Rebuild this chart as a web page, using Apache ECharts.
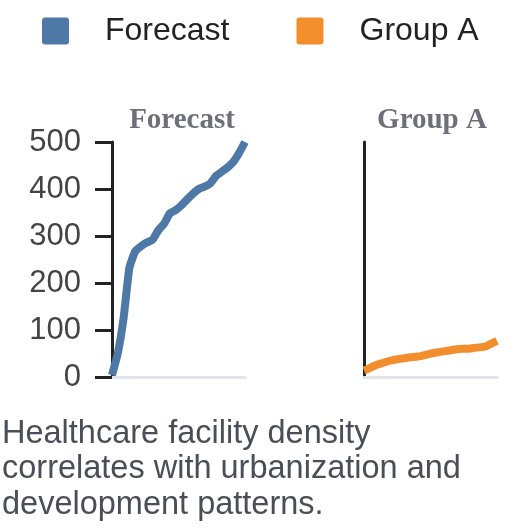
<!DOCTYPE html>
<html>
<head>
<meta charset="utf-8">
<script src="https://cdn.jsdelivr.net/npm/echarts@6/dist/echarts.min.js"></script>
<style>html,body{margin:0;padding:0;background:#fff}#c{width:528px;height:528px}</style>
</head>
<body>
<div id="c"></div>
<script>
var categories = ['1','2','3','4','5','6','7','8','9','10','11','12','13','14','15','16','17','18','19','20','21','22','23','24'];
var forecastValues = [4, 50, 125, 232, 267, 278, 286, 292, 312, 326, 348, 355, 365, 378, 390, 400, 405, 412, 428, 437, 446, 458, 477, 500];
var groupAValues = [14, 19, 25, 29, 33, 36, 38, 40, 42, 43, 45, 48, 51, 53, 55, 57, 59, 60, 60, 62, 63, 65, 71, 77];
var seriesNames = ['Forecast', 'Group A'];
var yTicks = [0, 100, 200, 300, 400, 500];
var caption = 'Healthcare facility density\ncorrelates with urbanization and\ndevelopment patterns.';

var colors = ['#4e79a7', '#f28e2b'];
var chart = echarts.init(document.getElementById('c'), null, {renderer: 'canvas'});

function xAxisCfg(i) {
  return {
    type: 'category', gridIndex: i, data: categories, boundaryGap: false,
    axisLine: {show: true, lineStyle: {color: '#e1e4e9', width: 3}},
    axisTick: {show: false}, axisLabel: {show: false}, splitLine: {show: false}
  };
}
function yAxisCfg(i, showLabels) {
  return {
    type: 'value', gridIndex: i, min: yTicks[0], max: yTicks[yTicks.length - 1], interval: 100,
    axisLine: {show: true, lineStyle: {color: '#222', width: 3}},
    axisTick: {show: showLabels, length: 17, lineStyle: {color: '#222', width: 3}},
    axisLabel: {show: showLabels, margin: 31, fontSize: 31, color: '#444', fontFamily: 'Liberation Sans, Arial, sans-serif'},
    splitLine: {show: false}
  };
}

chart.setOption({
  animation: false,
  color: colors,
  legend: {
    data: seriesNames,
    left: 37, top: 10,
    icon: 'path://M3,0H24A3,3,0,0,1,27,3V24A3,3,0,0,1,24,27H3A3,3,0,0,1,0,24V3A3,3,0,0,1,3,0Z',
    itemWidth: 27, itemHeight: 27,
    itemGap: 67,
    textStyle: {fontSize: 32, color: '#222', fontFamily: 'Liberation Sans, Arial, sans-serif', padding: [0, 0, 0, 31]}
  },
  title: [
    {text: seriesNames[0], left: 177, top: 101, textAlign: 'center',
     textStyle: {fontFamily: 'Liberation Serif, Times New Roman, serif', fontWeight: 'bold', fontSize: 29, color: '#6e7079'}},
    {text: seriesNames[1], left: 427, top: 101, textAlign: 'center',
     textStyle: {fontFamily: 'Liberation Serif, Times New Roman, serif', fontWeight: 'bold', fontSize: 29, color: '#6e7079'}},
    {text: caption, left: -3, top: 411,
     textStyle: {fontFamily: 'Liberation Sans, Arial, sans-serif', fontWeight: 'normal', fontSize: 32.5, lineHeight: 35.5, color: '#4a4f57'}}
  ],
  grid: [
    {left: 112, top: 142, width: 133, height: 235},
    {left: 364, top: 142, width: 133, height: 235}
  ],
  xAxis: [xAxisCfg(0), xAxisCfg(1)],
  yAxis: [yAxisCfg(0, true), yAxisCfg(1, false)],
  series: [
    {name: seriesNames[0], type: 'line', xAxisIndex: 0, yAxisIndex: 0, data: forecastValues,
     smooth: 0.15, showSymbol: false, lineStyle: {width: 8, color: colors[0]}, itemStyle: {color: colors[0]}},
    {name: seriesNames[1], type: 'line', xAxisIndex: 1, yAxisIndex: 1, data: groupAValues,
     smooth: 0.15, showSymbol: false, lineStyle: {width: 8, color: colors[1]}, itemStyle: {color: colors[1]}}
  ]
});
</script>
</body>
</html>
